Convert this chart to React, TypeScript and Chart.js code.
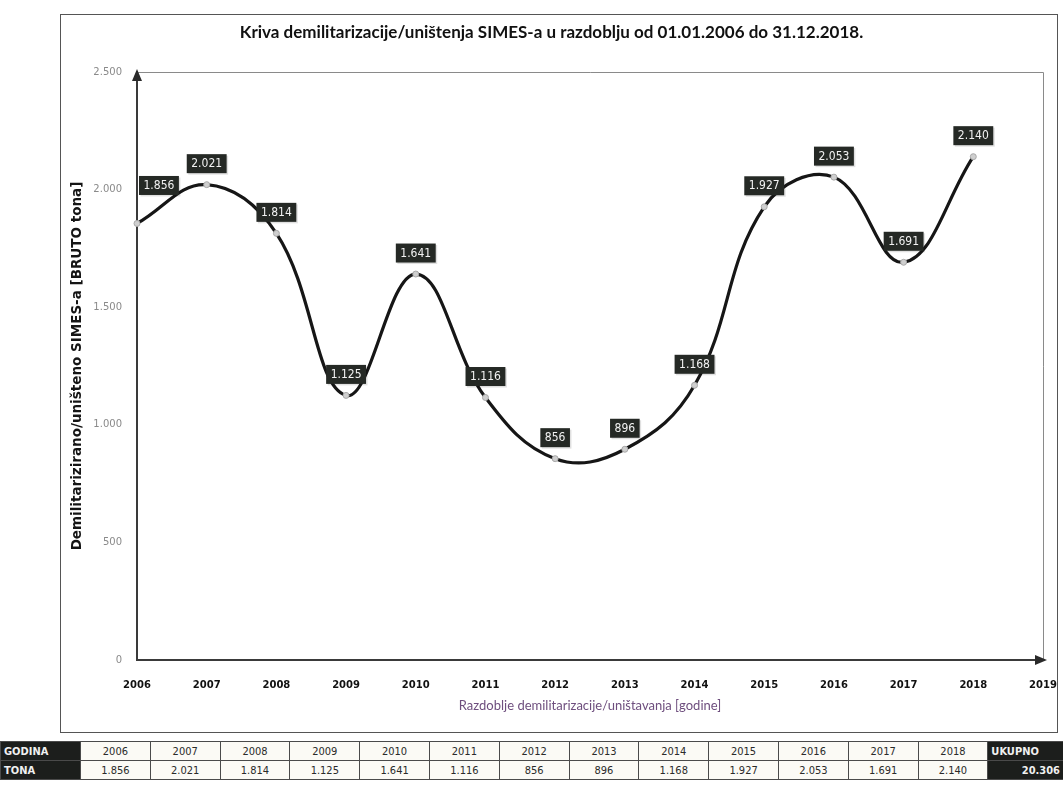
import React, { useEffect, useRef } from "react";
import { Chart, registerables } from "chart.js";

Chart.register(...registerables);

// ---------- data ----------
const YEARS = [2006, 2007, 2008, 2009, 2010, 2011, 2012, 2013, 2014, 2015, 2016, 2017, 2018];
const TONNES = [1856, 2021, 1814, 1125, 1641, 1116, 856, 896, 1168, 1927, 2053, 1691, 2140];
const TOTAL_LABEL = "20.306";
const Y_MIN = 0;
const Y_MAX = 2500;
const Y_STEP = 500;
const X_MIN = 2006;
const X_MAX = 2019;
const TITLE = "Kriva demilitarizacije/uništenja SIMES-a u razdoblju od 01.01.2006 do 31.12.2018.";
const Y_TITLE = "Demilitarizirano/uništeno SIMES-a [BRUTO tona]";
const X_TITLE = "Razdoblje demilitarizacije/uništavanja [godine]";
const ROW_YEAR = "GODINA";
const ROW_TONS = "TONA";
const TOTAL_HEAD = "UKUPNO";

const NARROW = '"Liberation Sans Narrow", "DejaVu Sans Condensed", "Roboto Condensed", Roboto, sans-serif';

function fmt(v: number): string {
  if (v >= 1000) {
    const th = Math.floor(v / 1000);
    const rest = String(Math.round(v % 1000)).padStart(3, "0");
    return `${th}.${rest}`;
  }
  return String(v);
}

const framePlugin = {
  id: "frameArrows",
  beforeDatasetsDraw(chart: any) {
    const { ctx, chartArea: a } = chart;
    ctx.save();
    ctx.strokeStyle = "#8a8a8a";
    ctx.lineWidth = 1;
    ctx.beginPath();
    ctx.moveTo(a.left, a.top + 0.5);
    ctx.lineTo(a.right + 0.5, a.top + 0.5);
    ctx.lineTo(a.right + 0.5, a.bottom);
    ctx.stroke();
    ctx.restore();
  },
  afterDraw(chart: any) {
    const { ctx, chartArea: a } = chart;
    ctx.save();
    ctx.fillStyle = "#2a2a2a";
    // y arrow
    ctx.beginPath();
    ctx.moveTo(a.left, a.top - 3);
    ctx.lineTo(a.left - 5, a.top + 9);
    ctx.lineTo(a.left + 5, a.top + 9);
    ctx.closePath();
    ctx.fill();
    // x arrow
    ctx.beginPath();
    ctx.moveTo(a.right + 4, a.bottom);
    ctx.lineTo(a.right - 8, a.bottom - 5);
    ctx.lineTo(a.right - 8, a.bottom + 5);
    ctx.closePath();
    ctx.fill();
    ctx.restore();
  },
};

const labelPlugin = {
  id: "boxLabels",
  afterDatasetsDraw(chart: any) {
    const { ctx, chartArea: a } = chart;
    const meta = chart.getDatasetMeta(0);
    const data = chart.data.datasets[0].data as any[];
    ctx.save();
    ctx.font = `12px ${NARROW}`;
    ctx.textAlign = "center";
    ctx.textBaseline = "middle";
    meta.data.forEach((pt: any, i: number) => {
      const txt = fmt(data[i].y);
      const w = ctx.measureText(txt).width + 9;
      const h = 19;
      let cx = pt.x;
      let cy = pt.y - 21;
      if (cx - w / 2 < a.left + 2) {
        cx = a.left + 2 + w / 2;
        cy -= 17;
      }
      ctx.fillStyle = "rgba(0,0,0,0.12)";
      ctx.fillRect(cx - w / 2 + 1.5, cy - h / 2 + 1.5, w, h);
      ctx.fillStyle = "#252925";
      ctx.fillRect(cx - w / 2, cy - h / 2, w, h);
      ctx.fillStyle = "#f2f2f2";
      ctx.fillText(txt, cx, cy + 0.5);
    });
    ctx.restore();
  },
};

export default function App() {
  const canvasRef = useRef<HTMLCanvasElement | null>(null);

  useEffect(() => {
    const canvas = canvasRef.current;
    if (!canvas) return;
    const chart = new Chart(canvas, {
      type: "line",
      data: {
        datasets: [
          {
            data: YEARS.map((y, i) => ({ x: y, y: TONNES[i] })),
            borderColor: "#161616",
            borderWidth: 3.2,
            tension: 0.4,
            cubicInterpolationMode: "default",
            pointRadius: 3,
            pointBackgroundColor: "#cfcfcf",
            pointBorderColor: "#a8a8a8",
            pointBorderWidth: 1,
            fill: false,
            clip: false as any,
          },
        ],
      },
      options: {
        animation: false,
        responsive: false,
        devicePixelRatio: 1,
        events: [],
        layout: { padding: { left: 0, right: 15, top: 0, bottom: 0 } },
        elements: { line: { capBezierPoints: false } },
        plugins: {
          legend: { display: false },
          tooltip: { enabled: false },
          title: {
            display: true,
            text: TITLE,
            color: "#111",
            font: { family: "Lato, 'Open Sans', sans-serif", size: 17, weight: "bold", lineHeight: 1.2 },
            padding: { top: 8, bottom: 29.6 },
          },
        },
        scales: {
          x: {
            type: "linear",
            min: X_MIN,
            max: X_MAX,
            grid: { display: false, drawTicks: false },
            border: { display: true, color: "#3a3a3a", width: 2 },
            ticks: {
              stepSize: 1,
              padding: 19,
              color: "#111",
              font: { family: "'DejaVu Sans', sans-serif", size: 10, weight: "bold" },
              callback: (v: any) => String(v),
            },
            title: {
              display: true,
              text: X_TITLE,
              color: "#6e4e7e",
              font: { family: "Lato, sans-serif", size: 13, lineHeight: 1.2 },
              padding: { top: 0, bottom: 19 },
            },
            afterFit: (s: any) => {
              s.height = 73;
              s.paddingLeft = 0;
              s.paddingRight = 0;
            },
          },
          y: {
            min: Y_MIN,
            max: Y_MAX,
            grid: { display: false, drawTicks: false },
            border: { display: true, color: "#3a3a3a", width: 2 },
            ticks: {
              stepSize: Y_STEP,
              padding: 15,
              color: "#8a8a8a",
              font: { family: "'DejaVu Sans', sans-serif", size: 10 },
              callback: (v: any) => fmt(Number(v)),
            },
            title: {
              display: true,
              text: Y_TITLE,
              color: "#151515",
              font: { family: "'DejaVu Sans', sans-serif", size: 13.5, weight: "bold", lineHeight: 1.2 },
              padding: { top: 9, bottom: 0 },
            },
            afterFit: (s: any) => {
              s.width = 77;
              s.paddingTop = 0;
              s.paddingBottom = 0;
            },
          },
        },
      },
      plugins: [framePlugin, labelPlugin],
    } as any);
    return () => chart.destroy();
  }, []);

  const cellBase: React.CSSProperties = {
    border: "1px solid #4a4a4a",
    padding: 0,
    height: 18,
    textAlign: "center",
    color: "#2a2a2a",
    background: "#fbfaf5",
    fontFamily: NARROW,
    fontSize: 11,
  };
  const dark: React.CSSProperties = {
    ...cellBase,
    background: "#1c1e1c",
    color: "#f0f0f0",
    fontWeight: "bold",
    textAlign: "left",
    paddingLeft: 3,
  };

  return (
    <div style={{ position: "absolute", left: 0, top: 0, width: 1063, height: 785, background: "#fff", overflow: "hidden" }}>
      <canvas
        ref={canvasRef}
        width={998}
        height={719}
        style={{ position: "absolute", left: 60, top: 14, width: 998, height: 719 }}
      />
      <div
        style={{
          position: "absolute",
          left: 60,
          top: 14,
          width: 998,
          height: 719,
          boxSizing: "border-box",
          border: "1px solid #555",
          pointerEvents: "none",
        }}
      />
      <table
        style={{
          position: "absolute",
          left: 0,
          top: 741,
          width: 1063,
          borderCollapse: "collapse",
          tableLayout: "fixed",
        }}
      >
        <colgroup>
          <col style={{ width: 80 }} />
          {YEARS.map((y) => (
            <col key={y} style={{ width: 69.8 }} />
          ))}
          <col style={{ width: 75.6 }} />
        </colgroup>
        <tbody>
          <tr>
            <td style={dark}>{ROW_YEAR}</td>
            {YEARS.map((y) => (
              <td key={y} style={cellBase}>{y}</td>
            ))}
            <td style={dark}>{TOTAL_HEAD}</td>
          </tr>
          <tr>
            <td style={dark}>{ROW_TONS}</td>
            {TONNES.map((v, i) => (
              <td key={i} style={cellBase}>{fmt(v)}</td>
            ))}
            <td style={{ ...dark, textAlign: "right", paddingRight: 3, paddingLeft: 0 }}>{TOTAL_LABEL}</td>
          </tr>
        </tbody>
      </table>
    </div>
  );
}
